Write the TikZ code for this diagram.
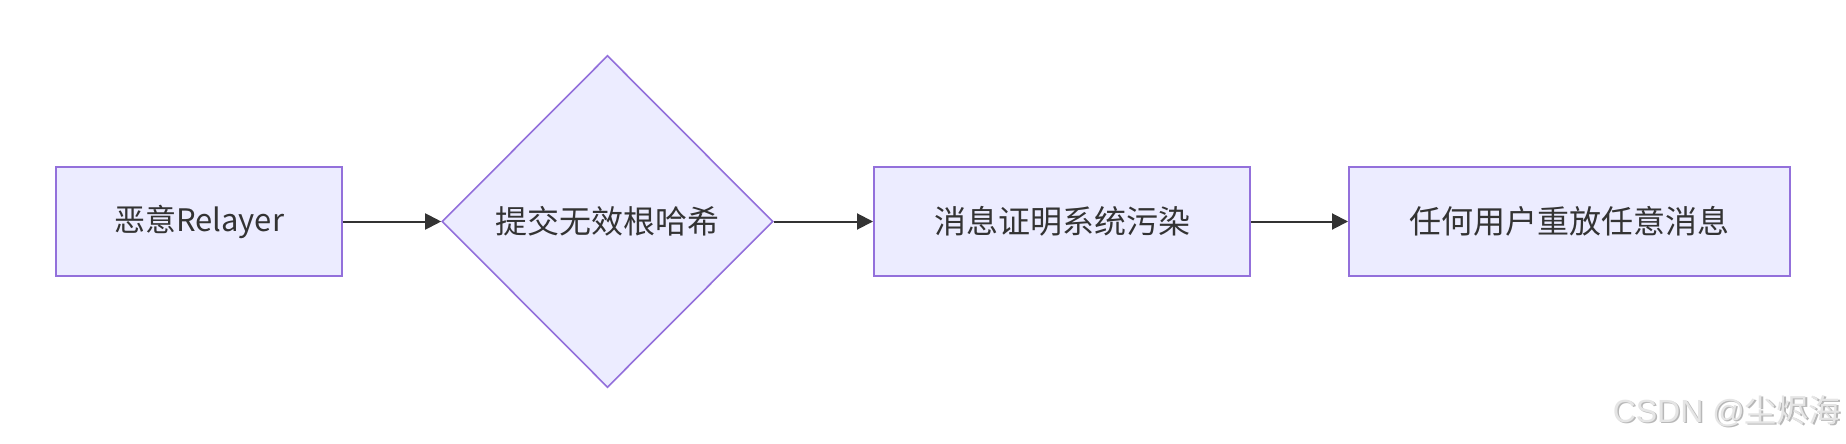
\documentclass[tikz,border=0pt]{standalone}
\usepackage{fontspec}
\setmainfont{Noto Sans CJK SC}
\newfontfamily\cjk{Noto Sans CJK SC}
\newfontfamily\wmlatin{Liberation Sans}
\usetikzlibrary{arrows.meta,shapes.geometric}
\definecolor{nodefill}{HTML}{ECECFF}
\definecolor{nodeborder}{HTML}{9370DB}
\definecolor{textgray}{HTML}{333333}
\tikzset{
  box/.style={draw=nodeborder, fill=nodefill, line width=2pt, minimum height=109pt, inner sep=0pt, text=textgray, font=\fontsize{32}{38}\selectfont},
  decision/.style={diamond, draw=nodeborder, fill=nodefill, line width=1.6pt, minimum width=331pt, minimum height=332pt, inner sep=0pt, text=textgray, font=\fontsize{32}{38}\selectfont},
  flow/.style={draw=textgray, line width=2pt, -{Triangle[length=16pt,width=16pt]}}
}
\begin{document}
\begin{tikzpicture}[x=1pt,y=-1pt]
\useasboundingbox[fill=white] (0,0) rectangle (1846,444);
\node[box, minimum width=286pt, font=\fontsize{31}{38}\selectfont] (a) at (199,221.5) {恶意Relayer};
\node[decision] (b) at (607.5,221.5) {提交无效根哈希};
\node[box, minimum width=376pt] (c) at (1062,221.5) {消息证明系统污染};
\node[box, minimum width=441pt] (d) at (1569.5,221.5) {任何用户重放任意消息};
\draw[flow] (a.east) -- (b.west);
\draw[flow] (b.east) -- (c.west);
\draw[flow] (c.east) -- (d.west);
\node[anchor=east, inner sep=0pt, text=black!28, font=\fontsize{32}{36}\selectfont] (wms) at (1842.5,412.5) {\wmlatin CSDN @\cjk 尘烬海};
\node[anchor=east, inner sep=0pt, text=black!10, font=\fontsize{32}{36}\selectfont] (wm) at (1841,411) {\wmlatin CSDN @\cjk 尘烬海};
\end{tikzpicture}
\end{document}
